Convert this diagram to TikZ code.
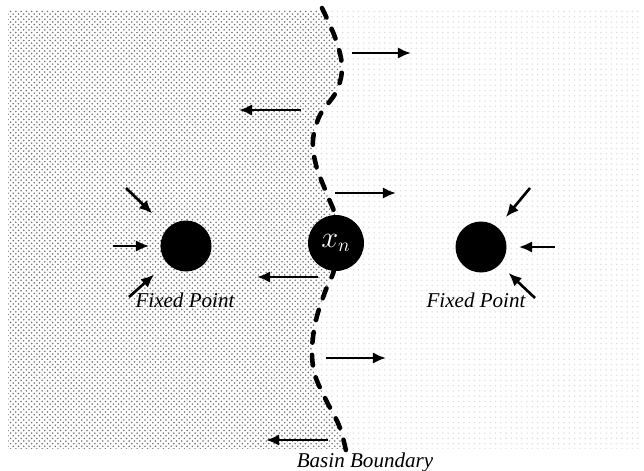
\documentclass[tikz,border=0pt]{standalone}
\usepackage{fontspec}
\setmainfont{Liberation Serif}
\usetikzlibrary{arrows.meta,patterns}

\tikzset{
  flow/.style={line width=1.5pt,-{Latex[length=7.5pt,width=6.5pt]}},
  fixpt/.style={circle,fill=black,inner sep=0pt,minimum size=1.02cm},
  lbl/.style={font=\fontsize{12}{14}\selectfont\itshape,inner sep=1pt},
  bdry/.style={line width=2.6pt,line cap=round,dash pattern=on 6pt off 7pt},
}

\begin{document}
\begin{tikzpicture}[x=0.02cm,y=-0.02cm]
        \useasboundingbox (0,0) rectangle (644,470);

        % the two basins (pixel units of the picture)
        \begin{scope}
          \clip (8,10) rectangle (642,448);
          \fill[pattern=dots,pattern color=black!12] (0,0) rectangle (644,470);
          \fill[pattern=crosshatch dots,pattern color=black!55,preaction={fill=white}]
            (0,0) -- plot[smooth,tension=0.6] coordinates {(322,8) (336,40) (342,68) (336,92) (320,115) (313,140) (316,165) (326,192) (336,218) (336,243) (334,270) (325,292) (316,320) (312,350) (315,375) (326,400) (340,428) (348,460)} -- (0,470) -- cycle;
        \end{scope}

        % basin boundary
        \draw[bdry] plot[smooth,tension=0.6] coordinates {(322,8) (336,40) (342,68) (336,92) (320,115) (313,140) (316,165) (326,192) (336,218) (336,243) (334,270) (325,292) (316,320) (312,350) (315,375) (326,400) (340,428) (348,460)};

        % points
        \node[fixpt] (fpL) at (186,246) {};
        \node[fixpt,minimum size=1.12cm,text=white,font=\fontsize{16}{18}\selectfont] (xn) at (336,243) {$x_n$};
        \node[fixpt] (fpR) at (481,247) {};

        % arrows into the fixed points
        \coordinate (inL1) at (126,188);
        \coordinate (inL2) at (113,246);
        \coordinate (inL3) at (129,297);
        \coordinate (inR1) at (530,188);
        \coordinate (inR2) at (555,247);
        \coordinate (inR3) at (535,298);
        \draw[flow,shorten >=0.42cm] (inL1) -- (fpL);
        \draw[flow,shorten >=0.22cm] (inL2) -- (fpL);
        \draw[flow,shorten >=0.34cm] (inL3) -- (fpL);
        \draw[flow,shorten >=0.26cm] (inR1) -- (fpR);
        \draw[flow,shorten >=0.24cm] (inR2) -- (fpR);
        \draw[flow,shorten >=0.24cm] (inR3) -- (fpR);

        % arrows away from the boundary
        \coordinate (a1) at (352,53);  \coordinate (b1) at (411,53);
        \coordinate (a2) at (301,110); \coordinate (b2) at (239,110);
        \coordinate (a3) at (335,193); \coordinate (b3) at (396,193);
        \coordinate (a4) at (318,277); \coordinate (b4) at (257,277);
        \coordinate (a5) at (326,358); \coordinate (b5) at (386,358);
        \coordinate (a6) at (328,440); \coordinate (b6) at (266,440);
        \foreach \i in {1,...,6}
          \draw[flow] (a\i) -- (b\i);

        % labels
        \node[lbl] (labL) at (185,300) {Fixed Point};
        \node[lbl] (labR) at (476,300) {Fixed Point};
        \node[lbl] (labB) at (365,462) {Basin Boundary};
      \end{tikzpicture}
\end{document}
